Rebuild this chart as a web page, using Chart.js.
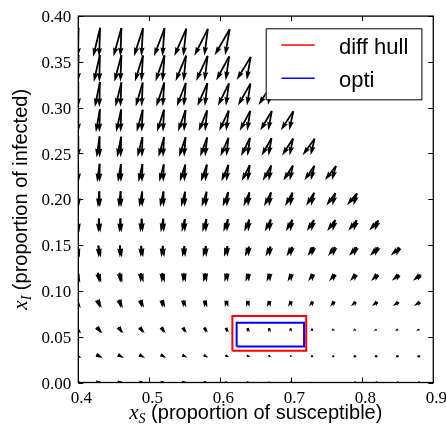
<!DOCTYPE html>
<html>
<head>
<meta charset="utf-8">
<script src="https://cdn.jsdelivr.net/npm/chart.js@4.4.1/dist/chart.umd.min.js"></script>
<style>
  html, body { margin: 0; padding: 0; background: #fff; }
  canvas { display: block; }
</style>
</head>
<body>
<canvas id="myChart" width="446" height="430"></canvas>
<script>
// grid of starting states
const S_GRID = [0.40, 0.43, 0.46, 0.49, 0.52, 0.55, 0.58, 0.61, 0.64, 0.67, 0.70, 0.73, 0.76, 0.79, 0.82, 0.85, 0.88];
const I_GRID = [0.0000, 0.0286, 0.0571, 0.0857, 0.1143, 0.1429, 0.1714, 0.2000, 0.2286, 0.2571, 0.2857, 0.3143, 0.3429, 0.3714];

// flow per grid row (rows only run while s + i <= 1)
// FLOW_V: change in infected, FLOW_U_MAX / FLOW_U_MIN: change in susceptible for the two control extremes
const FLOW_V = [
  [0, 0, 0, 0, 0, 0, 0, 0, 0, 0, 0, 0, 0, 0, 0, 0, 0],
  [-3, -3, -3, -3, -3, -2.5, -2.5, -2, -2, -2, -1.5, -1.5, -1, -1, -1, -1, -1],
  [-6, -6, -6, -5.5, -5.5, -5, -5, -4.5, -4, -4, -3.5, -3, -2.5, -2.5, -2, -2, -2],
  [-8, -8, -8, -7.5, -7.5, -7, -7, -6.5, -6, -6, -5.5, -5, -5, -4.5, -4.5, -4, -4],
  [-10, -10, -10, -9.5, -9.5, -9, -9, -8.5, -8, -8, -7.5, -7, -7, -6.5, -6.5, -6, -6],
  [-12, -12, -12, -11.5, -11.5, -11, -11, -10.5, -10, -10, -9.5, -9, -9, -8.5, -8.5, -8],
  [-14, -14, -14, -13.5, -13.5, -13, -13, -12.5, -12, -12, -11.5, -11, -11, -10.5, -10],
  [-16, -16, -16, -15.5, -15.5, -15, -15, -14.5, -14, -14, -13.5, -13, -12.5, -12],
  [-18.5, -18.5, -18, -18, -17.5, -17, -17, -16.5, -16, -15.5, -15, -14.5, -14],
  [-21, -21, -20.5, -20, -20, -19.5, -19, -18.5, -18, -17.5, -17, -16.5],
  [-23, -23, -22.5, -22, -22, -21.5, -21, -20.5, -20, -19.5, -19],
  [-25, -25, -24.5, -24, -24, -23.5, -23, -22.5, -22, -21],
  [-27, -27, -26.5, -26, -26, -25.5, -25, -24, -23],
  [-29, -29, -28.5, -28, -28, -27.5, -27, -26]
];
const FLOW_U_MAX = [
  [7, 7, 6.5, 6, 6, 5.5, 5, 4.5, 4, 3.5, 3, 2.5, 2, 1.5, 1.2, 1, 0.8],
  [6.5, 6.5, 6, 6, 5.5, 5, 4.5, 4, 3.5, 3, 2.5, 2, 1.5, 1.2, 1, 0.8, 0.5],
  [6, 5.5, 5, 5, 4.5, 4, 3.5, 3, 2.5, 2, 1.5, 1, 0.8, 0.5, 0.3, 0, 0],
  [5, 4.5, 4, 4, 3.5, 3, 2.5, 2, 1.5, 1, 0.5, 0, -0.5, -0.5, -1, -1, -1.5],
  [4, 3.5, 3, 3, 2.5, 2, 1.5, 1, 0.5, 0, -0.5, -1, -1.5, -1.5, -2, -2, -2.5],
  [3, 2.5, 2, 2, 1.5, 1, 0.5, 0, -0.5, -1, -1.5, -2, -2, -2.5, -3, -3],
  [2, 1.5, 1, 1, 0.5, 0, -0.5, -1, -1, -1.5, -2, -2.5, -2.5, -3, -3.5],
  [1, 0.5, 0.5, 0, 0, -0.5, -1, -1.5, -1.5, -2, -2.5, -3, -3, -3.5],
  [0.5, 0, 0, -0.5, -0.5, -1, -1.5, -2, -2, -2.5, -3, -3.5, -4],
  [0, 0, -0.5, -0.5, -1, -1.5, -2, -2, -2.5, -3, -3.5, -4],
  [0, -0.5, -0.5, -1, -1, -1.5, -2, -2.5, -3, -3.5, -4],
  [0, -0.5, -1, -1, -1.5, -2, -2.5, -3, -3.5, -4],
  [-0.5, -0.5, -1, -1.5, -2, -2.5, -3, -3.5, -4],
  [-0.5, -1, -1, -1.5, -2, -3, -3.5, -4.5]
];
const FLOW_U_MIN = [
  [7, 7, 6.5, 6, 6, 5.5, 5, 4.5, 4, 3.5, 3, 2.5, 2, 1.5, 1.2, 1, 0.8],
  [5.5, 5.5, 5, 4.5, 4, 3.5, 3, 2.5, 2, 1.5, 1, 0.5, 0, -0.2, -0.5, -0.8, -1],
  [4.5, 4, 3.5, 3, 2.5, 2, 1.5, 1, 0, -0.5, -1, -1.5, -2, -2, -2.5, -3, -3],
  [3, 2.5, 2, 1.5, 0.5, 0, -0.5, -1.5, -2, -2.5, -3, -3.5, -4, -4.5, -5, -5.5, -6],
  [2, 1.5, 1, 0, -0.5, -1, -2, -2.5, -3, -3.5, -4, -5, -5.5, -6, -6.5, -7, -7.5],
  [1, 0.5, 0, -0.5, -1.5, -2, -3, -3.5, -4, -5, -5.5, -6, -7, -7.5, -8, -8.5],
  [0, -0.5, -1, -1.5, -2.5, -3, -4, -4.5, -5, -6, -6.5, -7, -8, -8.5, -9],
  [-1, -1.5, -2, -3, -3.5, -4, -5, -5.5, -6, -7, -7.5, -8, -9, -10],
  [-2, -2.5, -3, -4, -4.5, -5.5, -6, -7, -8, -8.5, -9.5, -10, -11],
  [-2.5, -3, -4, -5, -5.5, -6.5, -7, -8, -9, -10, -11, -12],
  [-3, -4, -5, -6, -7, -7.5, -8.5, -9.5, -10.5, -11.5, -12.5],
  [-4, -5, -6, -7, -8, -9, -10, -11, -12.5, -13.5],
  [-5, -6, -7, -8, -9, -10.5, -11.5, -13, -14],
  [-6, -7, -8, -9, -10.5, -12, -13.5, -15]
];

// the two boxes around the low-infection region
const HULL_S = [0.617, 0.721, 0.721, 0.617, 0.617];
const HULL_I = [0.0347, 0.0347, 0.0726, 0.0726, 0.0347];
const OPTI_S = [0.623, 0.718, 0.718, 0.623, 0.623];
const OPTI_I = [0.0393, 0.0393, 0.0653, 0.0653, 0.0393];

const X_TICKS = [0.4, 0.5, 0.6, 0.7, 0.8, 0.9];
const X_LABELS = ['0.4', '0.5', '0.6', '0.7', '0.8', '0.9'];
const Y_TICKS = [0, 0.05, 0.1, 0.15, 0.2, 0.25, 0.3, 0.35, 0.4];
const Y_LABELS = ['0.00', '0.05', '0.10', '0.15', '0.20', '0.25', '0.30', '0.35', '0.40'];

const ARROW_SCALE = 1;   // pixels per flow unit
const SHAFT = 1.8;       // arrow shaft width in px

const TICK_FONT = '17px "Liberation Serif", serif';
const LABEL_FONT = '20px "Liberation Sans", Arial, sans-serif';
const MATH_FONT = 'italic 21px "Liberation Serif", serif';
const SUB_FONT = 'italic 14px "Liberation Serif", serif';
const LEGEND_FONT = '22px "Liberation Sans", Arial, sans-serif';

// matplotlib-style quiver arrow, filled polygon
function arrow(ctx, x0, y0, x1, y1) {
  const dx = x1 - x0, dy = y1 - y0;
  const len = Math.hypot(dx, dy);
  const w = SHAFT;
  if (len < w) {
    ctx.beginPath();
    ctx.arc(x0 + dx / 2, y0 + dy / 2, w * 0.6, 0, Math.PI * 2);
    ctx.fill();
    return;
  }
  let hl = 5 * w, hw = 3 * w, ha = 4.5 * w, sw = w;
  if (len < hl) {
    const f = len / hl;
    hl *= f; hw *= f; ha *= f; sw *= f;
  }
  const c = dx / len, s = dy / len;
  const pts = [
    [0, -sw / 2], [len - ha, -sw / 2], [len - hl, -hw / 2], [len, 0],
    [len - hl, hw / 2], [len - ha, sw / 2], [0, sw / 2]
  ];
  ctx.beginPath();
  pts.forEach(([px, py], n) => {
    const X = x0 + px * c - py * s;
    const Y = y0 + px * s + py * c;
    if (n === 0) ctx.moveTo(X, Y); else ctx.lineTo(X, Y);
  });
  ctx.closePath();
  ctx.fill();
}

const quiver = {
  id: 'quiver',
  beforeDatasetsDraw(chart) {
    const { ctx, chartArea: a, scales: { x, y } } = chart;
    ctx.save();
    ctx.beginPath();
    ctx.rect(a.left, a.top, a.right - a.left, a.bottom - a.top);
    ctx.clip();
    ctx.fillStyle = '#000';
    I_GRID.forEach((iv, k) => {
      FLOW_V[k].forEach((v, j) => {
        const px = x.getPixelForValue(S_GRID[j]);
        const py = y.getPixelForValue(iv);
        const vy = -v * ARROW_SCALE;
        const ux = FLOW_U_MAX[k][j] * ARROW_SCALE;
        const tx = px - ux / 2, ty = py - vy / 2;
        arrow(ctx, tx, ty, tx + ux, ty + vy);
        arrow(ctx, tx, ty, tx + FLOW_U_MIN[k][j] * ARROW_SCALE, ty + vy);
      });
    });
    ctx.restore();
  }
};

function mathLabel(ctx, cx, base, sym, sub, rest) {
  ctx.font = MATH_FONT;
  const w1 = ctx.measureText(sym).width;
  ctx.font = SUB_FONT;
  const w2 = ctx.measureText(sub).width;
  ctx.font = LABEL_FONT;
  const w3 = ctx.measureText(rest).width;
  let x0 = cx - (w1 + w2 + w3) / 2;
  ctx.textAlign = 'left';
  ctx.textBaseline = 'alphabetic';
  ctx.font = MATH_FONT;
  ctx.fillText(sym, x0, base);
  ctx.font = SUB_FONT;
  ctx.fillText(sub, x0 + w1, base + 4);
  ctx.font = LABEL_FONT;
  ctx.fillText(rest, x0 + w1 + w2, base);
}

const frame = {
  id: 'frame',
  afterDraw(chart) {
    const { ctx, chartArea: a, scales: { x, y } } = chart;
    ctx.save();
    ctx.strokeStyle = '#000';
    ctx.fillStyle = '#000';

    // inward ticks on all four sides
    ctx.lineWidth = 1;
    ctx.beginPath();
    X_TICKS.forEach(v => {
      const px = Math.round(x.getPixelForValue(v)) + 0.5;
      ctx.moveTo(px, a.bottom); ctx.lineTo(px, a.bottom - 5);
      ctx.moveTo(px, a.top); ctx.lineTo(px, a.top + 5);
    });
    Y_TICKS.forEach(v => {
      const py = Math.round(y.getPixelForValue(v)) + 0.5;
      ctx.moveTo(a.left, py); ctx.lineTo(a.left + 5, py);
      ctx.moveTo(a.right, py); ctx.lineTo(a.right - 5, py);
    });
    ctx.stroke();

    ctx.lineWidth = 1.3;
    ctx.strokeRect(a.left, a.top, a.right - a.left, a.bottom - a.top);

    // tick labels
    ctx.font = TICK_FONT;
    ctx.textBaseline = 'alphabetic';
    ctx.textAlign = 'center';
    X_TICKS.forEach((v, n) => {
      ctx.fillText(X_LABELS[n], x.getPixelForValue(v) + 3, a.bottom + 20.5);
    });
    ctx.textAlign = 'right';
    Y_TICKS.forEach((v, n) => {
      ctx.fillText(Y_LABELS[n], a.left - 7, y.getPixelForValue(v) + 6);
    });

    // axis titles
    mathLabel(ctx, (a.left + a.right) / 2, 419, 'x', 'S', ' (proportion of susceptible)');
    ctx.save();
    ctx.translate(27, (a.top + a.bottom) / 2);
    ctx.rotate(-Math.PI / 2);
    mathLabel(ctx, 0, 0, 'x', 'I', ' (proportion of infected)');
    ctx.restore();

    // legend box
    const bx = a.right - 167.6, by = a.top + 12.2, bw = 155.7, bh = 71;
    ctx.fillStyle = '#fff';
    ctx.fillRect(bx, by, bw, bh);
    ctx.lineWidth = 1;
    ctx.strokeStyle = '#000';
    ctx.strokeRect(bx + 0.5, by + 0.5, bw, bh);
    ctx.font = LEGEND_FONT;
    ctx.textAlign = 'left';
    chart.data.datasets.forEach((ds, n) => {
      const ly = by + 16.7 + n * 33.3;
      ctx.strokeStyle = ds.borderColor;
      ctx.lineWidth = 1.5;
      ctx.beginPath();
      ctx.moveTo(bx + 15.7, ly); ctx.lineTo(bx + 49, ly);
      ctx.stroke();
      ctx.fillStyle = '#000';
      ctx.fillText(ds.label, bx + 73.3, ly + 8.5);
    });
    ctx.restore();
  }
};

const boxData = (xs, ys) => xs.map((v, n) => ({ x: v, y: ys[n] }));

const ctx = document.getElementById('myChart').getContext('2d');
const chart = new Chart(ctx, {
  type: 'scatter',
  data: {
    datasets: [
      { label: 'diff hull', data: boxData(HULL_S, HULL_I), borderColor: '#ff0000', borderWidth: 2, showLine: true, pointRadius: 0, fill: false },
      { label: 'opti', data: boxData(OPTI_S, OPTI_I), borderColor: '#0000ff', borderWidth: 2, showLine: true, pointRadius: 0, fill: false }
    ]
  },
  options: {
    responsive: false,
    animation: false,
    devicePixelRatio: 1,
    layout: { padding: { left: 0, right: 12.7, top: 16.1, bottom: 0 } },
    plugins: { legend: { display: false }, tooltip: { enabled: false } },
    scales: {
      x: {
        type: 'linear', min: 0.4, max: 0.9,
        grid: { display: false }, border: { display: false },
        ticks: { display: false },
        afterFit: s => { s.height = 47.5; }
      },
      y: {
        type: 'linear', min: 0, max: 0.4,
        grid: { display: false }, border: { display: false },
        ticks: { display: false },
        afterFit: s => { s.width = 78.3; }
      }
    }
  },
  plugins: [quiver, frame]
});
</script>
</body>
</html>
